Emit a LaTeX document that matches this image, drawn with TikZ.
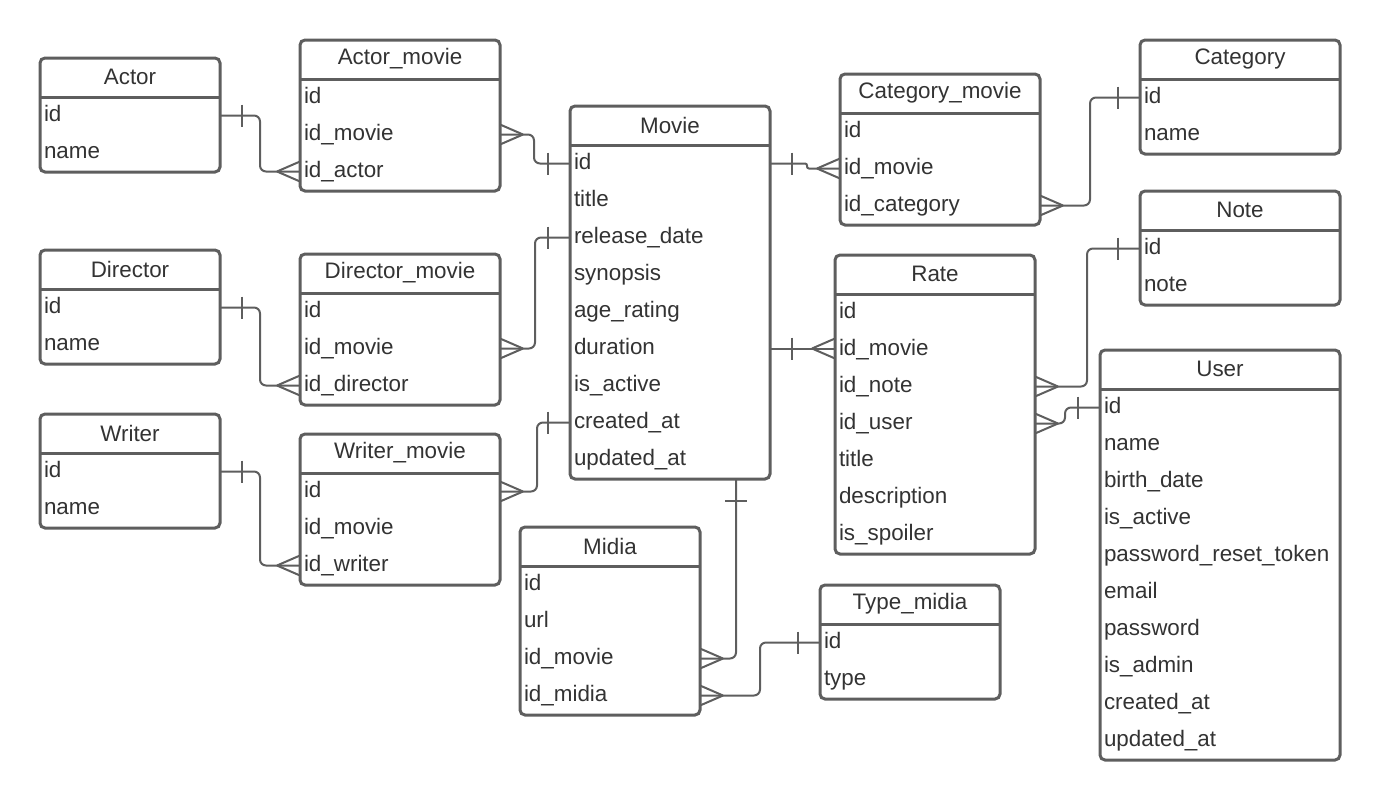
\documentclass[tikz,border=0pt]{standalone}
\usepackage{fontspec}
\setmainfont{Liberation Sans}
\definecolor{linegray}{HTML}{5E5E5E}
\definecolor{textgray}{HTML}{333333}
\tikzset{
  entity/.style={draw=linegray, line width=3pt, rounded corners=5pt, fill=white, anchor=north west, inner sep=0pt, outer sep=0pt},
  headline/.style={draw=linegray, line width=3pt},
  tabletitle/.style={text=textgray, inner sep=0pt},
  attr/.style={anchor=west, text=textgray, inner xsep=4pt, inner ysep=0pt, outer sep=0pt, text height=16pt, text depth=5pt},
  rel/.style={draw=linegray, line width=2pt, rounded corners=6pt},
  crowone/.pic={\draw[linegray, line width=2pt] (-22,-11) -- (-22,11);},
  crowmany/.pic={\draw[linegray, line width=2pt] (0,-10) -- (-23,0) (0,10) -- (-23,0);}
}
\begin{document}
\begin{tikzpicture}[x=1pt, y=-1pt, font=\fontsize{22.4pt}{26pt}\selectfont]
\useasboundingbox (0,0) rectangle (1380,801);

% Actor
\node[entity, minimum width=180pt, minimum height=114pt] (actor) at (40,58) {};
\draw[headline] ([yshift=-39pt]actor.north west) -- ([yshift=-39pt]actor.north east);
\node[tabletitle] (actor-title) at ([yshift=-19pt]actor.north) {Actor};
\foreach \txt [count=\row] in {id, name}
    \node[attr] (actor-\row) at ([yshift={-(20.5+37*\row)*1pt}]actor.north west) {\txt};

% Actor_movie
\node[entity, minimum width=200pt, minimum height=151pt] (am) at (300,40) {};
\draw[headline] ([yshift=-39pt]am.north west) -- ([yshift=-39pt]am.north east);
\node[tabletitle] (am-title) at ([yshift=-19pt]am.north) {Actor\_movie};
\foreach \txt [count=\row] in {id, id\_movie, id\_actor}
    \node[attr] (am-\row) at ([yshift={-(20.5+37*\row)*1pt}]am.north west) {\txt};

% Director
\node[entity, minimum width=180pt, minimum height=114pt] (director) at (40,250) {};
\draw[headline] ([yshift=-39pt]director.north west) -- ([yshift=-39pt]director.north east);
\node[tabletitle] (director-title) at ([yshift=-19pt]director.north) {Director};
\foreach \txt [count=\row] in {id, name}
    \node[attr] (director-\row) at ([yshift={-(20.5+37*\row)*1pt}]director.north west) {\txt};

% Director_movie
\node[entity, minimum width=200pt, minimum height=151pt] (dm) at (300,254) {};
\draw[headline] ([yshift=-39pt]dm.north west) -- ([yshift=-39pt]dm.north east);
\node[tabletitle] (dm-title) at ([yshift=-19pt]dm.north) {Director\_movie};
\foreach \txt [count=\row] in {id, id\_movie, id\_director}
    \node[attr] (dm-\row) at ([yshift={-(20.5+37*\row)*1pt}]dm.north west) {\txt};

% Writer
\node[entity, minimum width=180pt, minimum height=114pt] (writer) at (40,414) {};
\draw[headline] ([yshift=-39pt]writer.north west) -- ([yshift=-39pt]writer.north east);
\node[tabletitle] (writer-title) at ([yshift=-19pt]writer.north) {Writer};
\foreach \txt [count=\row] in {id, name}
    \node[attr] (writer-\row) at ([yshift={-(20.5+37*\row)*1pt}]writer.north west) {\txt};

% Writer_movie
\node[entity, minimum width=200pt, minimum height=151pt] (wm) at (300,434) {};
\draw[headline] ([yshift=-39pt]wm.north west) -- ([yshift=-39pt]wm.north east);
\node[tabletitle] (wm-title) at ([yshift=-19pt]wm.north) {Writer\_movie};
\foreach \txt [count=\row] in {id, id\_movie, id\_writer}
    \node[attr] (wm-\row) at ([yshift={-(20.5+37*\row)*1pt}]wm.north west) {\txt};

% Movie
\node[entity, minimum width=200pt, minimum height=373pt] (movie) at (570,106) {};
\draw[headline] ([yshift=-39pt]movie.north west) -- ([yshift=-39pt]movie.north east);
\node[tabletitle] (movie-title) at ([yshift=-19pt]movie.north) {Movie};
\foreach \txt [count=\row] in {id, title, release\_date, synopsis, age\_rating, duration, is\_active, created\_at, updated\_at}
    \node[attr] (movie-\row) at ([yshift={-(20.5+37*\row)*1pt}]movie.north west) {\txt};

% Midia
\node[entity, minimum width=180pt, minimum height=188pt] (midia) at (520,527) {};
\draw[headline] ([yshift=-39pt]midia.north west) -- ([yshift=-39pt]midia.north east);
\node[tabletitle] (midia-title) at ([yshift=-19pt]midia.north) {Midia};
\foreach \txt [count=\row] in {id, url, id\_movie, id\_midia}
    \node[attr] (midia-\row) at ([yshift={-(20.5+37*\row)*1pt}]midia.north west) {\txt};

% Type_midia
\node[entity, minimum width=180pt, minimum height=114pt] (tm) at (820,585) {};
\draw[headline] ([yshift=-39pt]tm.north west) -- ([yshift=-39pt]tm.north east);
\node[tabletitle] (tm-title) at ([yshift=-19pt]tm.north) {Type\_midia};
\foreach \txt [count=\row] in {id, type}
    \node[attr] (tm-\row) at ([yshift={-(20.5+37*\row)*1pt}]tm.north west) {\txt};

% Category_movie
\node[entity, minimum width=200pt, minimum height=151pt] (cm) at (840,74) {};
\draw[headline] ([yshift=-39pt]cm.north west) -- ([yshift=-39pt]cm.north east);
\node[tabletitle] (cm-title) at ([yshift=-19pt]cm.north) {Category\_movie};
\foreach \txt [count=\row] in {id, id\_movie, id\_category}
    \node[attr] (cm-\row) at ([yshift={-(20.5+37*\row)*1pt}]cm.north west) {\txt};

% Category
\node[entity, minimum width=200pt, minimum height=114pt] (cat) at (1140,40) {};
\draw[headline] ([yshift=-39pt]cat.north west) -- ([yshift=-39pt]cat.north east);
\node[tabletitle] (cat-title) at ([yshift=-19pt]cat.north) {Category};
\foreach \txt [count=\row] in {id, name}
    \node[attr] (cat-\row) at ([yshift={-(20.5+37*\row)*1pt}]cat.north west) {\txt};

% Note
\node[entity, minimum width=200pt, minimum height=114pt] (note) at (1140,191) {};
\draw[headline] ([yshift=-39pt]note.north west) -- ([yshift=-39pt]note.north east);
\node[tabletitle] (note-title) at ([yshift=-19pt]note.north) {Note};
\foreach \txt [count=\row] in {id, note}
    \node[attr] (note-\row) at ([yshift={-(20.5+37*\row)*1pt}]note.north west) {\txt};

% Rate
\node[entity, minimum width=200pt, minimum height=299pt] (rate) at (835,255) {};
\draw[headline] ([yshift=-39pt]rate.north west) -- ([yshift=-39pt]rate.north east);
\node[tabletitle] (rate-title) at ([yshift=-19pt]rate.north) {Rate};
\foreach \txt [count=\row] in {id, id\_movie, id\_note, id\_user, title, description, is\_spoiler}
    \node[attr] (rate-\row) at ([yshift={-(20.5+37*\row)*1pt}]rate.north west) {\txt};

% User
\node[entity, minimum width=240pt, minimum height=410pt] (user) at (1100,350) {};
\draw[headline] ([yshift=-39pt]user.north west) -- ([yshift=-39pt]user.north east);
\node[tabletitle] (user-title) at ([yshift=-19pt]user.north) {User};
\foreach \txt [count=\row] in {id, name, birth\_date, is\_active, password\_reset\_token, email, password, is\_admin, created\_at, updated\_at}
    \node[attr] (user-\row) at ([yshift={-(20.5+37*\row)*1pt}]user.north west) {\txt};

% Relations (one = bar, many = crow's foot)
\draw[rel] (actor-1 -| actor.east) pic[xscale=-1]{crowone} -| ([xshift=-40pt]am-3.west) -- (am-3.west) pic{crowmany};
\draw[rel] (am-2 -| am.east) pic[xscale=-1]{crowmany} -| ([xshift=-36pt]movie-1.west) -- (movie-1.west) pic{crowone};
\draw[rel] (director-1 -| director.east) pic[xscale=-1]{crowone} -| ([xshift=-40pt]dm-3.west) -- (dm-3.west) pic{crowmany};
\draw[rel] (dm-2 -| dm.east) pic[xscale=-1]{crowmany} -| ([xshift=-35pt]movie-3.west) -- (movie-3.west) pic{crowone};
\draw[rel] (writer-1 -| writer.east) pic[xscale=-1]{crowone} -| ([xshift=-40pt]wm-3.west) -- (wm-3.west) pic{crowmany};
\draw[rel] (wm-1 -| wm.east) pic[xscale=-1]{crowmany} -| ([xshift=-33pt]movie-8.west) -- (movie-8.west) pic{crowone};
\draw[rel, rounded corners=2pt] (movie-1 -| movie.east) pic[xscale=-1]{crowone} -| ([xshift=-33pt]cm-2.west) -- (cm-2.west) pic{crowmany};
\draw[rel] (cm-3 -| cm.east) pic[xscale=-1]{crowmany} -| ([xshift=-50pt]cat-1.west) -- (cat-1.west) pic{crowone};
\draw[rel] (movie-6 -| movie.east) pic[xscale=-1]{crowone} -- (movie-6 -| rate.west) pic{crowmany};
\draw[rel] ([xshift=66pt]movie.south) pic[rotate=90]{crowone} |- (midia-3 -| midia.east) pic[xscale=-1]{crowmany};
\draw[rel] (midia-4 -| midia.east) pic[xscale=-1]{crowmany} -| ([xshift=-60pt]tm-1.west) -- (tm-1.west) pic{crowone};
\draw[rel] (rate-3 -| rate.east) pic[xscale=-1]{crowmany} -| ([xshift=-53pt]note-1.west) -- (note-1.west) pic{crowone};
\draw[rel] (rate-4 -| rate.east) pic[xscale=-1]{crowmany} -| ([xshift=-35pt]user-1.west) -- (user-1.west) pic{crowone};

\end{tikzpicture}
\end{document}
